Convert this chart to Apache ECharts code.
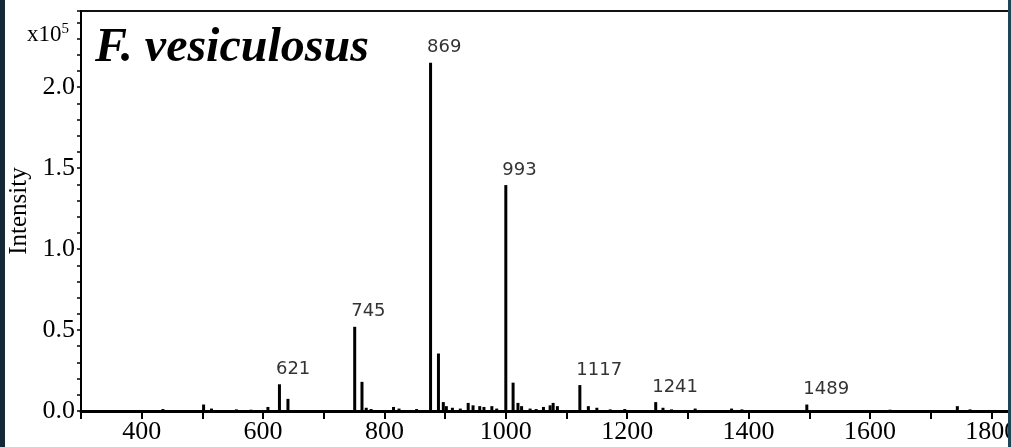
<!DOCTYPE html>
<html>
<head>
<meta charset="utf-8">
<script src="https://cdn.jsdelivr.net/npm/echarts@6/dist/echarts.min.js"></script>
<style>
html,body{margin:0;padding:0;background:#fff;}
#c{width:1011px;height:447px;}
</style>
</head>
<body>
<div id="c"></div>
<script>
var peakMz    = [627, 751, 876, 1000, 1122, 1247, 1496];
var peakInt   = [0.165, 0.52, 2.15, 1.395, 0.16, 0.055, 0.04];
var peakLabel = ['621', '745', '869', '993', '1117', '1241', '1489'];
// Minor / unlabelled peaks
var minorMz  = [380, 435, 502, 515, 556, 580, 608, 641, 763, 770, 778, 815, 824, 853, 889, 897, 902, 912, 925, 938, 946, 957, 964, 977, 985, 1012, 1020, 1026, 1040, 1050, 1062, 1073, 1078, 1085, 1136, 1150, 1172, 1196, 1259, 1273, 1312, 1372, 1389, 1633, 1744, 1765];
var minorInt = [0.005, 0.012, 0.04, 0.015, 0.01, 0.008, 0.025, 0.075, 0.18, 0.02, 0.012, 0.025, 0.015, 0.012, 0.355, 0.055, 0.03, 0.02, 0.015, 0.05, 0.035, 0.03, 0.025, 0.03, 0.015, 0.175, 0.05, 0.03, 0.015, 0.012, 0.025, 0.035, 0.05, 0.03, 0.03, 0.02, 0.01, 0.012, 0.02, 0.01, 0.015, 0.015, 0.01, 0.008, 0.03, 0.01];
// Axis settings
var xMin = 300, xMax = 1900, xStep = 100, xLabelStep = 200;
var yMin = 0, yMax = 2.47, yStep = 0.1, yLabelStep = 0.5;

var data = [];
for (var i = 0; i < minorMz.length; i++) data.push({value: [minorMz[i], minorInt[i]]});
for (var j = 0; j < peakMz.length; j++) {
  data.push({
    value: [peakMz[j], peakInt[j]],
    label: {show: true, formatter: peakLabel[j]}
  });
}

var chart = echarts.init(document.getElementById('c'));
chart.setOption({
  backgroundColor: '#ffffff',
  animation: false,
  grid: {left: 81, top: 11, width: 971, height: 400, outerBoundsMode: 'none', containLabel: false,
         show: true, borderColor: '#111', borderWidth: 2, backgroundColor: 'transparent'},
  xAxis: {
    type: 'value', min: xMin, max: xMax, interval: xStep,
    axisLine: {show: true, onZero: false, lineStyle: {color: '#000', width: 3}},
    axisTick: {show: true, inside: false, length: 8, lineStyle: {color: '#000', width: 2}},
    splitLine: {show: false},
    axisLabel: {
      color: '#000', fontFamily: 'Liberation Serif', fontSize: 26, margin: 8,
      formatter: function (v) { return (v % xLabelStep === 0) ? String(v) : ''; }
    }
  },
  yAxis: {
    type: 'value', min: yMin, max: yMax, interval: yStep,
    name: 'Intensity', nameLocation: 'middle', nameRotate: 90, nameGap: 44,
    nameTextStyle: {color: '#000', fontFamily: 'Liberation Serif', fontSize: 25},
    axisLine: {show: true, lineStyle: {color: '#000', width: 2}},
    axisTick: {show: true, length: 4, lineStyle: {color: '#000', width: 1.5}},
    splitLine: {show: false},
    axisLabel: {
      color: '#000', fontFamily: 'Liberation Serif', fontSize: 26, margin: 6,
      formatter: function (v) {
        var r = v / yLabelStep;
        return Math.abs(r - Math.round(r)) < 1e-6 ? v.toFixed(1) : '';
      }
    }
  },
  series: [{
    type: 'bar',
    barWidth: 3,
    itemStyle: {color: '#000'},
    label: {
      show: false, position: [-2, -6], align: 'left', verticalAlign: 'bottom',
      color: '#333', fontFamily: 'DejaVu Sans', fontSize: 18
    },
    data: data
  }],
  graphic: [
    {type: 'text', left: 95, top: 25, z: 10,
     style: {text: 'F. vesiculosus', fill: '#000', font: 'italic bold 48px "Liberation Serif"'}},
    {type: 'text', left: 27, top: 22, z: 10,
     style: {text: 'x10{s|5}', fill: '#000', font: '23px "Liberation Serif"',
             rich: {s: {fontSize: 15, fontFamily: 'Liberation Serif', verticalAlign: 'top', padding: [0,0,10,0]}}}},
    {type: 'rect', shape: {x: 0, y: 0, width: 5, height: 447}, z: 100, style: {fill: '#142836'}},
    {type: 'rect', shape: {x: 1008, y: 0, width: 3, height: 447}, z: 100, style: {fill: '#1b4656'}}
  ]
});
</script>
</body>
</html>
